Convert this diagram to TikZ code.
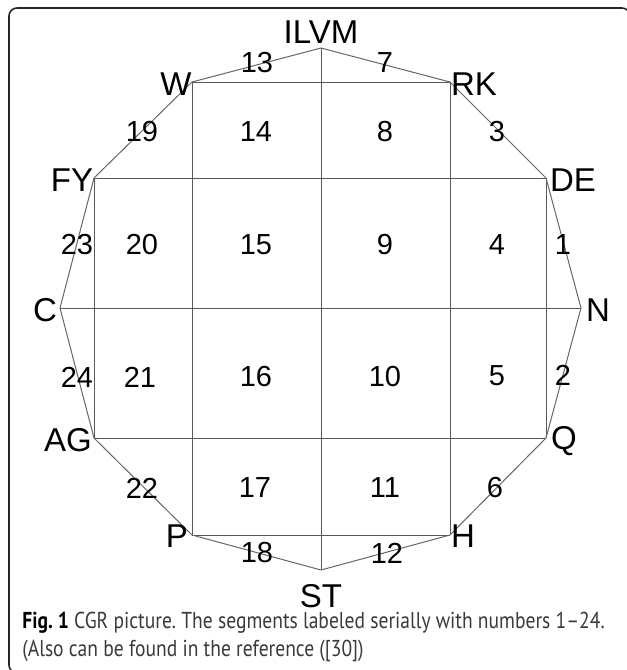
\documentclass[tikz,border=0pt]{standalone}
\usepackage{fontspec}
\setmainfont{Liberation Sans}
\newfontfamily\capfont[FakeStretch=0.85]{PT Sans}
\usetikzlibrary{positioning}
\definecolor{capgray}{HTML}{3A3A3A}
\tikzstyle{lbl} = [font=\fontsize{16.5}{19}\selectfont, inner sep=0pt]
\tikzstyle{num} = [font=\fontsize{14.5}{17}\selectfont, inner sep=0pt]
\tikzstyle{gridline} = [draw=black!65, line width=0.5pt]
\tikzstyle{edge} = [draw=black!60, line width=0.5pt, line join=round]
\tikzstyle{frame} = [draw=black!85, line width=0.8pt, rounded corners=4pt]
\tikzstyle{captext} = [font=\capfont\fontsize{11.5}{13}\selectfont\frenchspacing, text=capgray, inner sep=0pt, anchor=base west]

\begin{document}
\begin{tikzpicture}[x=0.5pt, y=-0.5pt]
        \clip (0,0) rectangle (627,670);
        \draw [frame] (9,8) rectangle (630,673);

        % Vertices of the polygon
        \coordinate (vN) at (581,308);
        \coordinate (vDE) at (546,178);
        \coordinate (vRK) at (450,82);
        \coordinate (vILVM) at (321,48);
        \coordinate (vW) at (192,82);
        \coordinate (vFY) at (94,178);
        \coordinate (vC) at (60,308);
        \coordinate (vAG) at (94,438);
        \coordinate (vP) at (192,535);
        \coordinate (vST) at (321,570);
        \coordinate (vH) at (450,535);
        \coordinate (vQ) at (546,438);

        % Grid lines
        \draw [gridline] (vW) -- (vRK);
        \draw [gridline] (vFY) -- (vDE);
        \draw [gridline] (vC) -- (vN);
        \draw [gridline] (vAG) -- (vQ);
        \draw [gridline] (vP) -- (vH);
        \draw [gridline] (vILVM) -- (vST);
        \draw [gridline] (vW) -- (vP);
        \draw [gridline] (vRK) -- (vH);
        \draw [gridline] (vFY) -- (vAG);
        \draw [gridline] (vDE) -- (vQ);

        % Outline
        \draw [edge] (vN) -- (vDE) -- (vRK) -- (vILVM) -- (vW) -- (vFY) -- (vC) -- (vAG) -- (vP) -- (vST) -- (vH) -- (vQ) -- cycle;

        % Vertex labels
        \node (ILVM) [lbl] at (321,32) {ILVM};
        \node (W) [lbl] at (176,84) {W};
        \node (RK) [lbl] at (474,84) {RK};
        \node (FY) [lbl] at (72,180) {FY};
        \node (DE) [lbl] at (573,180) {DE};
        \node (C) [lbl] at (45,310) {C};
        \node (N) [lbl] at (598,310) {N};
        \node (AG) [lbl] at (68,440) {AG};
        \node (Q) [lbl] at (564,441) {Q};
        \node (P) [lbl] at (177,536) {P};
        \node (H) [lbl] at (463,536) {H};
        \node (ST) [lbl] at (321,596) {ST};

        % Segment numbers
        \node (s1) [num] at (563,245) {1};
        \node (s2) [num] at (563,375) {2};
        \node (s3) [num] at (497,132) {3};
        \node (s4) [num] at (497,245) {4};
        \node (s5) [num] at (497,376) {5};
        \node (s6) [num] at (495,488) {6};
        \node (s7) [num] at (385,63) {7};
        \node (s8) [num] at (385,132) {8};
        \node (s9) [num] at (385,245) {9};
        \node (s10) [num] at (385,377) {10};
        \node (s11) [num] at (385,488) {11};
        \node (s12) [num] at (387,553) {12};
        \node (s13) [num] at (257,63) {13};
        \node (s14) [num] at (256,132) {14};
        \node (s15) [num] at (256,245) {15};
        \node (s16) [num] at (256,377) {16};
        \node (s17) [num] at (255,488) {17};
        \node (s18) [num] at (257,553) {18};
        \node (s19) [num] at (142,132) {19};
        \node (s20) [num] at (142,245) {20};
        \node (s21) [num] at (140,377) {21};
        \node (s22) [num] at (142,488) {22};
        \node (s23) [num] at (77,245) {23};
        \node (s24) [num] at (77,377) {24};

        % Caption
        \node (cap1) [captext] at (22,628) {\textbf{\color{black}Fig. 1} CGR picture. The segments labeled serially with numbers 1–24.};
        \node (cap2) [captext] at (22,656) {(Also can be found in the reference ([30])};
    \end{tikzpicture}
\end{document}
